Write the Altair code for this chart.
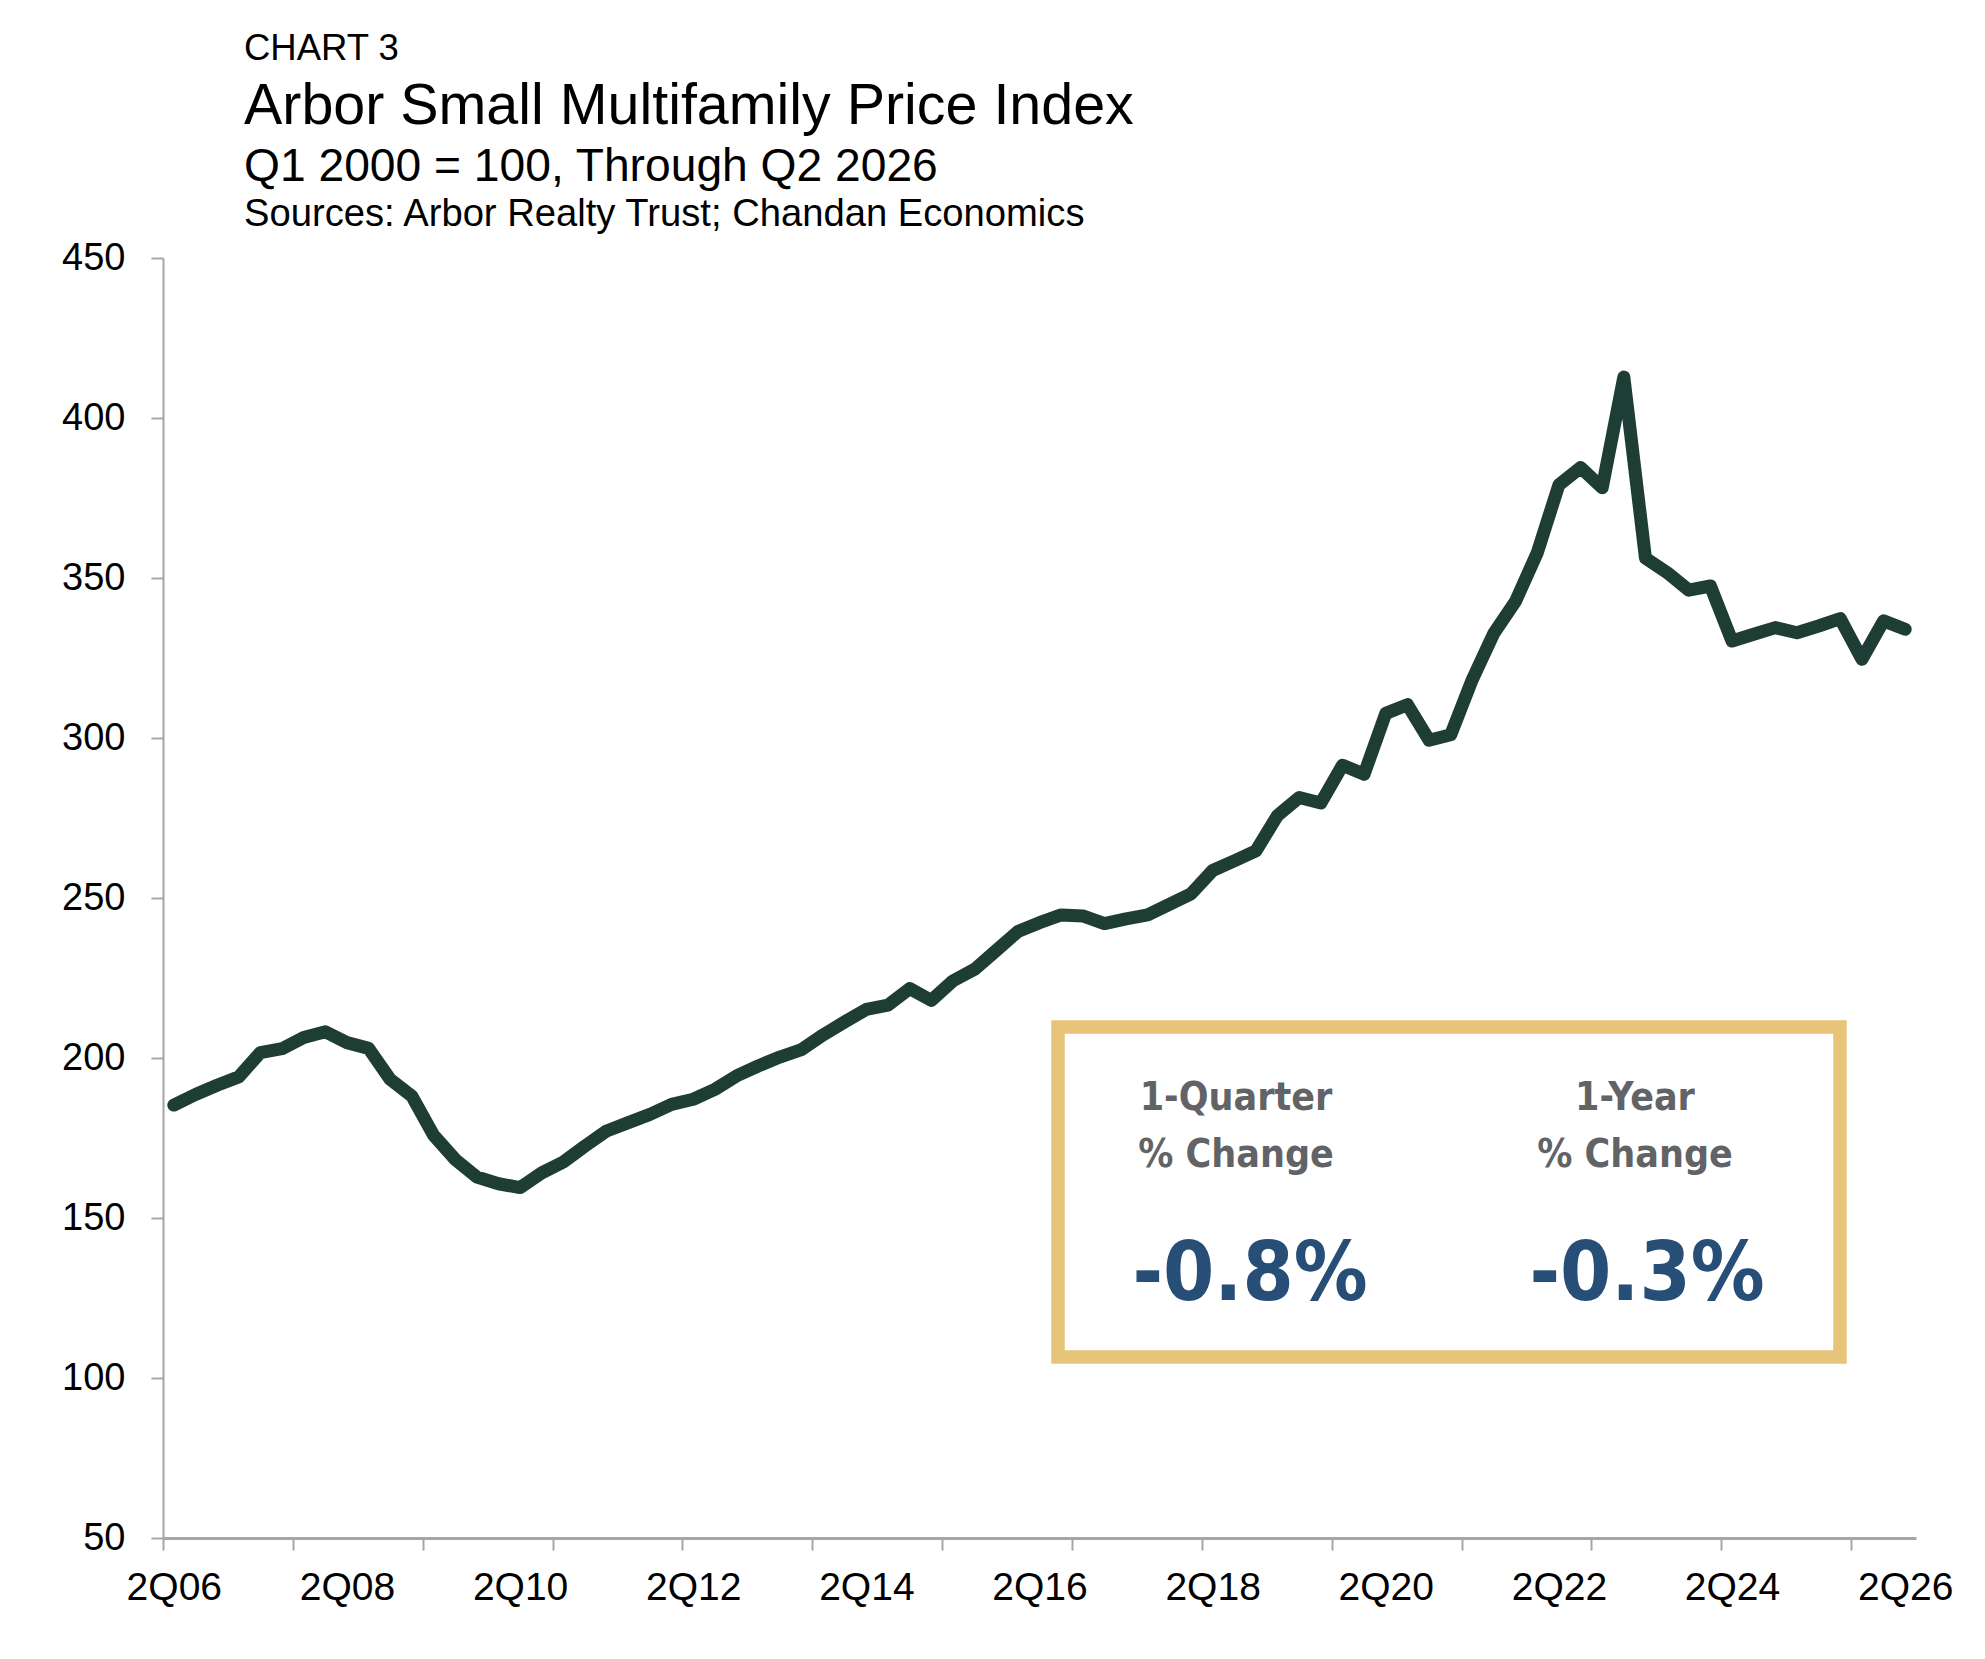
import altair as alt
import pandas as pd

# ---------------- data ----------------
quarters = [f"{q}Q{y % 100:02d}" for y in range(2006, 2027) for q in range(1, 5)][1:82]
price_index = [185.3, 188.6, 191.5, 194.1, 201.7, 202.9, 206.4, 208.2, 204.8, 203.0,
               193.3, 188.1, 175.9, 168.3, 162.8, 160.7, 159.5, 164.1, 167.5, 172.5,
               177.2, 179.8, 182.4, 185.5, 187.1, 190.2, 194.4, 197.5, 200.3, 202.6,
               207.2, 211.3, 215.2, 216.5, 221.7, 218.0, 224.1, 227.7, 233.6, 239.5,
               242.3, 244.7, 244.4, 242.0, 243.5, 244.7, 248.0, 251.3, 258.6, 261.6,
               264.7, 275.8, 281.4, 279.7, 291.5, 288.7, 307.7, 310.4, 299.3, 301.0,
               318.3, 332.8, 342.8, 357.9, 379.1, 384.5, 378.2, 412.8, 356.2, 351.7,
               346.2, 347.5, 330.3, 332.4, 334.5, 332.9, 335.0, 337.3, 324.6, 336.6,
               334.0]
tick_labels = ["2Q06", "2Q08", "2Q10", "2Q12", "2Q14", "2Q16",
               "2Q18", "2Q20", "2Q22", "2Q24", "2Q26"]
y_ticks = [50, 100, 150, 200, 250, 300, 350, 400, 450]
title_lines = ["CHART 3", "Arbor Small Multifamily Price Index",
               "Q1 2000 = 100, Through Q2 2026",
               "Sources: Arbor Realty Trust; Chandan Economics"]
stat_titles = ["1-Quarter\n% Change", "1-Year\n% Change"]
stat_values = ["-0.8%", "-0.3%"]

df = pd.DataFrame({"idx": list(range(len(quarters))), "quarter": quarters,
                   "value": price_index})
label_idx = [quarters.index(t) for t in tick_labels]
tick_bounds = [i - 0.5 for i in range(0, len(quarters), 6)]
label_array = "[" + ",".join(f"'{t}'" for t in tick_labels) + "]"

FONT = "Liberation Sans"
NARROW = "Liberation Sans Narrow, DejaVu Sans Condensed, Liberation Sans"
GRAY = "#A6A6A6"

xscale = alt.Scale(domain=[-0.5, len(quarters) - 0.5], nice=False, zero=False)
yscale = alt.Scale(domain=[50, 450], nice=False, zero=False)
yaxis = alt.Axis(values=y_ticks, labelFont=FONT, labelFontSize=38,
                 labelColor="black", labelPadding=26, tickSize=12,
                 tickColor=GRAY, tickWidth=2, domainColor=GRAY,
                 domainWidth=2, grid=False, labelFlush=False)

base = alt.Chart(df)

line = base.mark_line(color="#1E3D34", strokeWidth=13, strokeCap="round",
                      strokeJoin="round").encode(
    x=alt.X("idx:Q", scale=xscale, title=None,
            axis=alt.Axis(values=label_idx, orient="bottom",
                          labelExpr=f"{label_array}[round(datum.value/8)]",
                          ticks=False, tickSize=0, labelPadding=30,
                          labelFont=FONT, labelFontSize=39, labelColor="black",
                          labelFlush=False, labelOverlap=False, labelBound=False,
                          domainColor=GRAY, domainWidth=3, grid=False)),
    y=alt.Y("value:Q", scale=yscale, title=None, axis=yaxis),
)

tick_layer = base.mark_line(opacity=0).encode(
    x=alt.X("idx:Q", scale=xscale, title=None,
            axis=alt.Axis(values=tick_bounds, orient="bottom", labels=False,
                          domain=False, tickSize=12, tickColor=GRAY,
                          tickWidth=2, grid=False)),
    y=alt.Y("value:Q", scale=yscale, title=None, axis=yaxis),
)


def text_layer(s, x, y, size, font, color, weight="normal", align="left",
               line_height=None):
    kw = dict(font=font, fontSize=size, color=color, fontWeight=weight,
              align=align, baseline="alphabetic", lineBreak="\n")
    if line_height:
        kw["lineHeight"] = line_height
    return alt.Chart(pd.DataFrame({"t": [s]})).mark_text(**kw).encode(
        text="t:N", x=alt.value(x), y=alt.value(y))


titles = [
    text_layer(title_lines[0], 81, -198, 36.5, FONT, "black"),
    text_layer(title_lines[1], 81, -134, 57.4, FONT, "black"),
    text_layer(title_lines[2], 81, -77, 46.2, FONT, "black"),
    text_layer(title_lines[3], 81, -32, 38.2, FONT, "black"),
]

box = alt.Chart(pd.DataFrame({"a": [0]})).mark_rect(
    filled=False, stroke="#E8C37A", strokeWidth=13.5).encode(
    x=alt.value(895), x2=alt.value(1677), y=alt.value(769), y2=alt.value(1099))

stats = [
    text_layer(stat_titles[0], 1073, 852, 39, NARROW, "#626366", "bold",
               "center", 57),
    text_layer(stat_titles[1], 1472, 852, 39, NARROW, "#626366", "bold",
               "center", 57),
    text_layer(stat_values[0], 1087, 1042, 82, NARROW, "#264E76", "bold",
               "center"),
    text_layer(stat_values[1], 1484, 1042, 82, NARROW, "#264E76", "bold",
               "center"),
]

chart = alt.layer(tick_layer, line, box, *titles, *stats).resolve_axis(
    x="independent"
).properties(
    width=1753, height=1280,
    autosize=alt.AutoSizeParams(type="none"),
    padding={"left": 155, "top": 250, "right": 60, "bottom": 100},
    background="white",
).configure_view(strokeWidth=0)

chart.save("out.html", embed_options={"renderer": "svg", "actions": False})
